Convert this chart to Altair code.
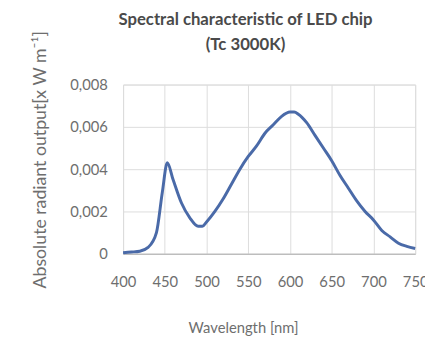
import altair as alt
import pandas as pd

wavelength = [400, 410, 420, 430, 440, 447, 453, 460, 470, 480, 490, 495, 500, 510, 520, 530, 540, 550, 560, 570,
              580, 590, 600, 605, 610, 620, 630, 640, 650, 660, 670, 680, 690, 700, 710, 720, 730, 740, 750]
radiant = [0.00005, 0.00008, 0.00012, 0.0003, 0.001, 0.0029, 0.0043, 0.0035, 0.0024, 0.0017, 0.0013, 0.0013,
           0.0015, 0.0020, 0.0026, 0.0033, 0.0040, 0.0046, 0.0051, 0.0057,
           0.0061, 0.0065, 0.0067, 0.0067, 0.0066, 0.0062, 0.0056, 0.0050, 0.0044, 0.0037, 0.0031, 0.0025,
           0.0020, 0.0016, 0.0011, 0.0008, 0.0005, 0.00035, 0.00025]
x_ticks = [400, 450, 500, 550, 600, 650, 700, 750]
y_ticks = [0, 0.002, 0.004, 0.006, 0.008]

df = pd.DataFrame({"wl": wavelength, "val": radiant})

font = "Lato"
gray = "#6e6e6e"

chart = alt.Chart(df).mark_line(color="#4a6aa8", strokeWidth=3, interpolate="monotone").encode(
    x=alt.X("wl:Q", scale=alt.Scale(domain=[400, 750], nice=False),
            axis=alt.Axis(values=x_ticks, title="Wavelength [nm]", tickSize=0, labelPadding=21,
                          labelFontSize=15, labelColor=gray, labelFont=font,
                          titleFont=font, titleFontSize=15, titleColor=gray, titleFontWeight="normal",
                          titleX=122, titleY=75, titleBaseline="middle",
                          gridColor="#dcdcdc", domainColor="#b0b0b0", labelFlush=False)),
    y=alt.Y("val:Q", scale=alt.Scale(domain=[0, 0.008], nice=False),
            axis=alt.Axis(values=y_ticks, title="Absolute radiant output[x W m⁻¹]", tickSize=0, labelPadding=16,
                          labelExpr="datum.value == 0 ? '0' : replace(format(datum.value, '.3f'), '.', ',')",
                          labelFontSize=15, labelColor=gray, labelFont=font,
                          titleFont=font, titleFontSize=18, titleColor=gray, titleFontWeight="normal",
                          titleX=-84, titleY=76, titleAngle=-90, titleBaseline="middle", titleAlign="center",
                          gridColor="#dcdcdc", domainColor="#dcdcdc")),
).properties(
    width=297, height=172,
    autosize=alt.AutoSizeParams(type="none"),
    padding={"left": 117, "top": 75, "right": 10, "bottom": 95},
    title=alt.Title(["Spectral  characteristic of LED chip", "(Tc 3000K)"], font=font, fontSize=17,
                    fontWeight="bold", color="#4a4a4a", anchor="middle", dx=-24, offset=-24, lineHeight=25),
).configure_view(stroke="#dcdcdc").configure(background="white")

chart.save("out.html", embed_options={"renderer": "svg", "actions": False})
